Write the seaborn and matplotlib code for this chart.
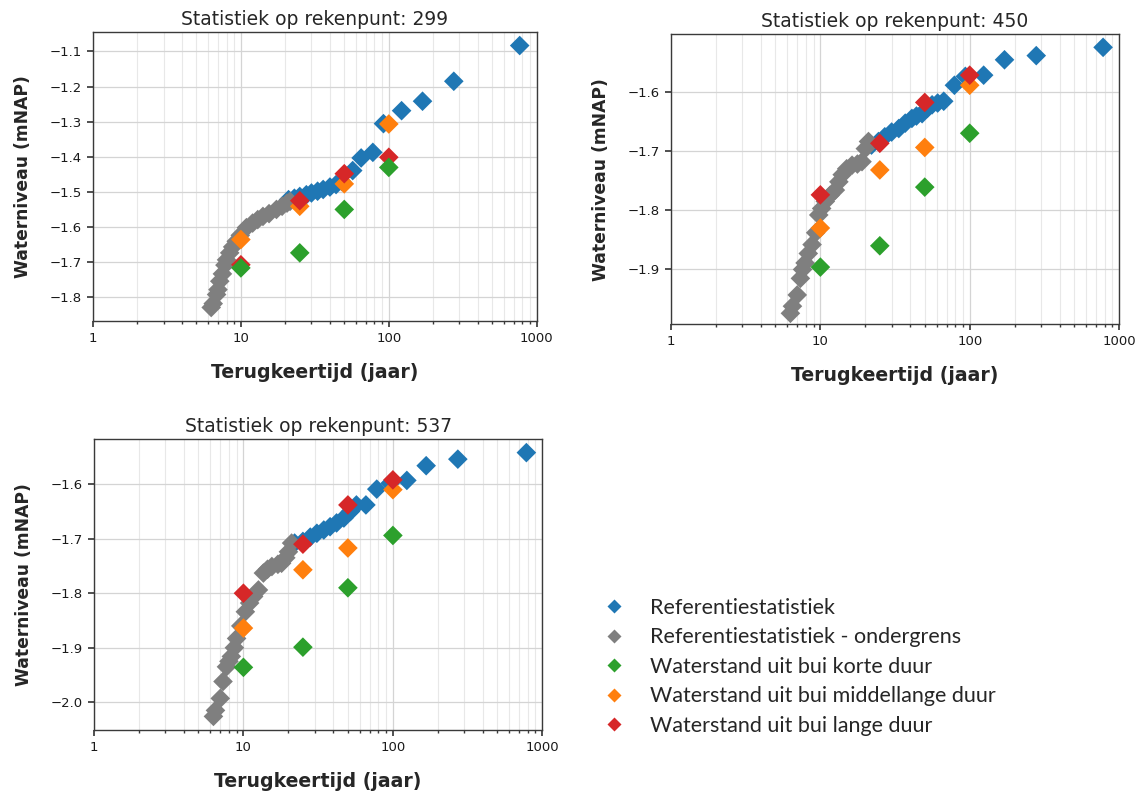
import pandas as pd
import matplotlib.pyplot as plt
from matplotlib.lines import Line2D
from matplotlib.ticker import LogLocator, NullFormatter
import seaborn as sns

sns.set_theme(style="ticks")
plt.rcParams['font.family'] = ['DejaVu Sans']

# Legenda / categorieen
labels = ["Referentiestatistiek",
          "Referentiestatistiek - ondergrens",
          "Waterstand uit bui korte duur",
          "Waterstand uit bui middellange duur",
          "Waterstand uit bui lange duur"]
colors = ["#1f77b4", "#7f7f7f", "#2ca02c", "#ff7f0e", "#d62728"]
# volgorde waarin de punten getekend worden (laatste bovenop)
draw_order = [labels[0], labels[1], labels[3], labels[4], labels[2]]

xticks = [1, 10, 100, 1000]
xtick_labels = ["1", "10", "100", "1000"]
bui_T = [10, 25, 50, 100]

# ---- rekenpunt 299 ----
ref_T_299 = [21, 23, 25, 27.7, 30, 33, 36, 40, 44, 48, 57, 65, 78, 92, 122, 169, 275, 767]
ref_W_299 = [-1.523, -1.519, -1.514, -1.509, -1.504, -1.499, -1.494, -1.487, -1.480, -1.471,
             -1.440, -1.404, -1.388, -1.306, -1.269, -1.242, -1.185, -1.083]
ond_T_299 = [6.3, 6.5, 6.85, 7.0, 7.2, 7.5, 7.8, 8.0, 8.4, 8.8, 9.3, 9.9, 10.9, 12, 13,
             14.1, 15.5, 17.4, 19, 20.5, 21.5]
ond_W_299 = [-1.831, -1.820, -1.794, -1.780, -1.756, -1.735, -1.710, -1.695, -1.675, -1.658,
             -1.642, -1.625, -1.603, -1.590, -1.580, -1.571, -1.563, -1.551, -1.542, -1.533, -1.528]
kort_299 = [-1.718, -1.675, -1.551, -1.431]
middel_299 = [-1.637, -1.542, -1.478, -1.307]
lang_299 = [-1.709, -1.526, -1.449, -1.402]

# ---- rekenpunt 450 ----
ref_T_450 = [22, 24.5, 27, 30, 33.5, 37, 41, 44, 48, 52, 56, 61, 67, 79, 93.5, 124, 171, 279, 782]
ref_W_450 = [-1.690, -1.684, -1.676, -1.668, -1.662, -1.653, -1.645, -1.641, -1.637, -1.628,
             -1.622, -1.619, -1.616, -1.589, -1.574, -1.572, -1.546, -1.539, -1.525]
ond_T_450 = [6.3, 6.5, 7.0, 7.35, 7.6, 7.9, 8.3, 8.8, 9.3, 9.75, 10.2, 10.8, 11.6, 12.6,
             13.3, 14, 15, 16.3, 17.7, 19, 20, 21]
ond_W_450 = [-1.974, -1.962, -1.943, -1.915, -1.900, -1.889, -1.873, -1.858, -1.838, -1.808,
             -1.797, -1.785, -1.775, -1.766, -1.752, -1.740, -1.730, -1.724, -1.722, -1.718,
             -1.696, -1.684]
kort_450 = [-1.896, -1.860, -1.761, -1.670]
middel_450 = [-1.830, -1.732, -1.694, -1.589]
lang_450 = [-1.774, -1.687, -1.618, -1.572]

# ---- rekenpunt 537 ----
ref_T_537 = [22, 25, 28, 31, 34.5, 38, 42, 47, 52, 57, 66, 78, 96, 124, 167, 272, 782]
ref_W_537 = [-1.708, -1.705, -1.697, -1.690, -1.684, -1.678, -1.671, -1.662, -1.650, -1.638,
             -1.638, -1.609, -1.598, -1.593, -1.566, -1.554, -1.542]
ond_T_537 = [6.3, 6.5, 7.0, 7.3, 7.7, 8.0, 8.3, 8.7, 9.0, 9.6, 10.3, 11.0, 11.7, 12.6,
             13.6, 14.5, 15.5, 17, 18, 19.2, 20, 21]
ond_W_537 = [-2.026, -2.015, -1.993, -1.962, -1.935, -1.925, -1.916, -1.900, -1.883, -1.860,
             -1.834, -1.818, -1.806, -1.794, -1.763, -1.756, -1.751, -1.747, -1.745, -1.735,
             -1.724, -1.708]
kort_537 = [-1.936, -1.899, -1.790, -1.694]
middel_537 = [-1.864, -1.757, -1.717, -1.610]
lang_537 = [-1.800, -1.710, -1.638, -1.592]

panels = [
    ("299", ref_T_299, ref_W_299, ond_T_299, ond_W_299, kort_299, middel_299, lang_299,
     [-1.1, -1.2, -1.3, -1.4, -1.5, -1.6, -1.7, -1.8], (-1.869, -1.045),
     [0.0814, 0.597, 0.3886, 0.3625]),
    ("450", ref_T_450, ref_W_450, ond_T_450, ond_W_450, kort_450, middel_450, lang_450,
     [-1.6, -1.7, -1.8, -1.9], (-1.992, -1.503),
     [0.5876, 0.593, 0.3923, 0.3639]),
    ("537", ref_T_537, ref_W_537, ond_T_537, ond_W_537, kort_537, middel_537, lang_537,
     [-1.6, -1.7, -1.8, -1.9, -2.0], (-2.051, -1.517),
     [0.0823, 0.0829, 0.3926, 0.3656]),
]


def make_frame(ref_T, ref_W, ond_T, ond_W, kort, middel, lang):
    parts = {
        labels[0]: (ref_T, ref_W),
        labels[1]: (ond_T, ond_W),
        labels[2]: (bui_T, kort),
        labels[3]: (bui_T, middel),
        labels[4]: (bui_T, lang),
    }
    rows = []
    for name in draw_order:
        T, W = parts[name]
        rows.append(pd.DataFrame({"T": T, "W": W, "serie": name}))
    return pd.concat(rows, ignore_index=True)


fig = plt.figure(figsize=(11.42, 7.96), dpi=100)
palette = dict(zip(labels, colors))

for naam, rT, rW, oT, oW, k, m, l, yticks, ylim, pos in panels:
    ax = fig.add_axes(pos)
    df = make_frame(rT, rW, oT, oW, k, m, l)
    sns.scatterplot(data=df, x="T", y="W", hue="serie", palette=palette,
                    marker="D", s=100, edgecolor="none", linewidth=0,
                    legend=False, ax=ax, zorder=3)
    ax.set_xscale("log")
    ax.set_xlim(1, 1000)
    ax.set_ylim(*ylim)
    ax.set_xticks(xticks)
    ax.set_xticklabels(xtick_labels)
    ax.xaxis.set_minor_locator(LogLocator(base=10, subs=range(2, 10)))
    ax.xaxis.set_minor_formatter(NullFormatter())
    ax.set_yticks(yticks)
    ax.grid(which="major", color="#d4d4d4", linewidth=0.9)
    ax.grid(which="minor", axis="x", color="#e8e8e8", linewidth=0.8)
    ax.set_axisbelow(True)
    for sp in ax.spines.values():
        sp.set_visible(True)
        sp.set_color("#3a3a3a")
        sp.set_linewidth(1.0)
    ax.tick_params(axis="both", which="major", labelsize=9.5, length=4.5,
                   color="#3a3a3a", labelcolor="#1a1a1a", direction="out")
    ax.tick_params(axis="x", which="minor", length=2.5, color="#3a3a3a")
    ax.set_title(f"Statistiek op rekenpunt: {naam}", fontsize=13.5, pad=5)
    ax.set_xlabel("Terugkeertijd (jaar)", fontsize=13.6, fontweight="bold", labelpad=13)
    ax.set_ylabel("Waterniveau (mNAP)", fontsize=12.3, fontweight="bold", labelpad=13)

handles = [Line2D([0], [0], marker="D", linestyle="none", markersize=7.0,
                  markerfacecolor=c, markeredgecolor="none") for c in colors]
fig.legend(handles, labels, loc="upper left", bbox_to_anchor=(0.528, 0.249),
           frameon=False, prop={"family": "Lato", "size": 15.5},
           handlelength=1.0, handletextpad=1.17, labelspacing=0.44,
           borderpad=0, borderaxespad=0)

fig.savefig("out.png", dpi=100)
